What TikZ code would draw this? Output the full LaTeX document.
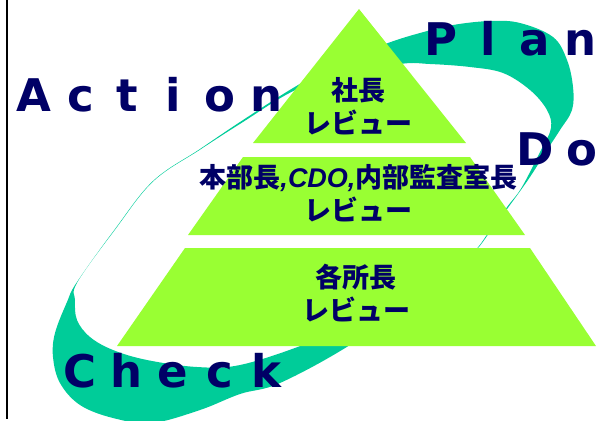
\documentclass[tikz,border=0pt]{standalone}
\usepackage{fontspec}
\newfontfamily\pdcafont{DejaVu Sans}
\newfontfamily\jpfont{Noto Sans CJK JP}
\newfontfamily\latinfont{Liberation Sans}
\definecolor{swoosh}{RGB}{0,204,153}
\definecolor{layer}{RGB}{153,255,51}
\definecolor{ink}{RGB}{0,0,102}
\makeatletter
\newcommand\spreadword[1]{\@tfor\pd@ch:=#1\do{\makebox[46.5pt]{\pd@ch}}\kern-10pt}
\makeatother

\begin{document}
\begin{tikzpicture}[x=1pt,y=-1pt]

\tikzset{word/.style = {font=\pdcafont\bfseries\fontsize{45}{54}\selectfont, text=ink, inner sep=0, anchor=base west}}
\tikzset{review/.style = {font=\jpfont\bfseries\fontsize{27}{33}\selectfont, text=ink, align=center, inner sep=0}}
\useasboundingbox (0,0) rectangle (598,421);
\draw[line width=1.2pt] (7,0) -- (7,419);
%ring
\fill[swoosh, even odd rule]
  plot[smooth cycle, tension=0.6] coordinates {(77,282) (115,229) (153,181) (200,149) (240,122) (293,88) (340,62) (388,43) (420,33) (453,25) (490,21) (520,23) (553,37) (567,60) (573,87) (572,110) (560,130) (547,150) (530,177) (510,205) (490,232) (470,256) (420,295) (350,345) (280,383) (240,394) (200,410) (152,423) (113,418) (80,405) (60,383) (53,357) (55,333) (67,302)}
  plot[smooth cycle, tension=0.6] coordinates {(77.3,282.3) (115.3,229.3) (153.3,181.3) (200.3,149.5) (240.8,123.4) (293.8,90.8) (340,76) (400,64) (430,64) (470,67) (503,73) (530,90) (547,110) (551,128) (541,150) (521.8,187.3) (508,205.8) (488.8,232.3) (468.8,256.3) (420,290) (360,320) (303,345) (240,365) (197,367) (147,360) (113,350) (90,337) (77,320) (75,300)};
%pyramid
\fill[layer] (359,9) -- (466,143) -- (253,143) -- cycle;
\fill[layer] (243,157) -- (470,157) -- (525,235) -- (188,235) -- cycle;
\fill[layer] (185,248) -- (530,248) -- (596,346) -- (117,346) -- cycle;
%labels
\node[review] (ceo) at (358,106.5) {社長\\レビュー};
\node[review] (exec) at (358.5,193.5) {本部長{\latinfont\itshape ,CDO,}内部監査室長\\レビュー};
\node[review] (site) at (356,293.5) {各所長\\レビュー};
\node[word] (action) at (10.75,111) {\spreadword{Action}};
\node[word] (plan) at (418,55) {\spreadword{Plan}};
\node[word] (do) at (511.75,165) {\spreadword{Do}};
\node[word] (check) at (56.75,387) {\spreadword{Check}};

\end{tikzpicture}
\end{document}
